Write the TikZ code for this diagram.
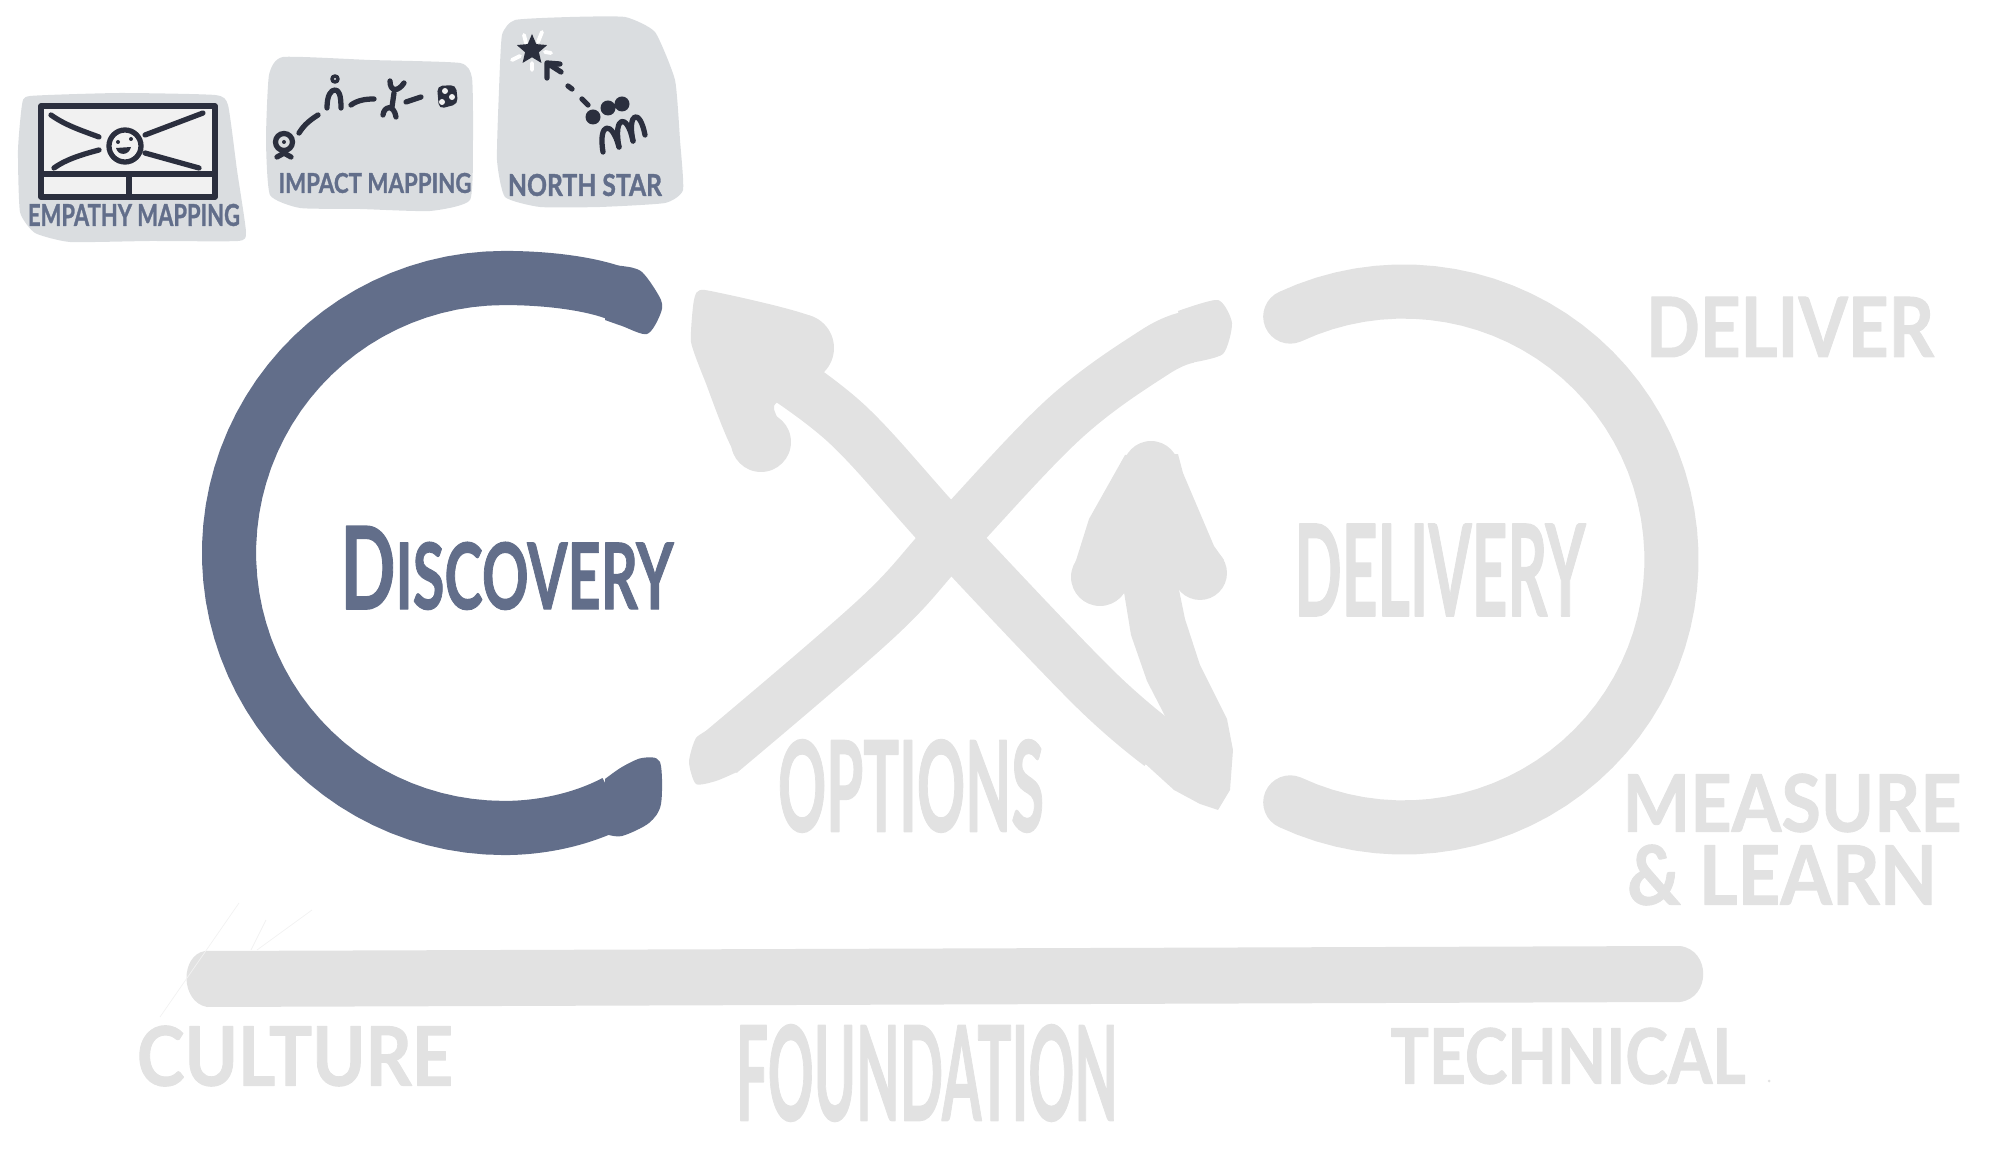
\documentclass[tikz,border=0pt]{standalone}
\usepackage{graphicx}
\usepackage{fontspec}
\setmainfont{Lato}[BoldFeatures={FakeBold=1.2}]
\usetikzlibrary{shapes.geometric}
\definecolor{slateblue}{HTML}{626E8A}
\definecolor{fadedgray}{HTML}{E2E2E2}
\definecolor{cardgray}{HTML}{DADDE0}
\definecolor{inkdark}{HTML}{2B2F3E}
\definecolor{screengray}{HTML}{F1F1F1}
\newlength\pxlen
\setlength\pxlen{0.01cm}
\newcommand{\fitbox}[3]{\resizebox{#1\pxlen}{#2\pxlen}{\bfseries #3}}

\begin{document}
\begin{tikzpicture}[x=0.01cm, y=-0.01cm, line join=round,
	bigstroke/.style={line width=15.4pt},
	crossstroke/.style={fadedgray, line width=14.8pt},
	iconline/.style={draw=inkdark, line width=1.5pt, line cap=round},
	bluelabel/.style={text=slateblue, inner sep=0pt},
	fadedlabel/.style={text=fadedgray, inner sep=0pt},
	raystroke/.style={draw=white, line width=1.1pt, line cap=round},
	]

	\useasboundingbox (0,0) rectangle (1999,1158);

	\draw[slateblue, bigstroke] (615,802) .. controls (585,818) and (545,828) .. (504,828) -- plot [domain=90:270, samples=50] ({504+275*cos(\x)}, {553+275*sin(\x)}) .. controls (550,278) and (590,284) .. (615,293); % discovery arc
	\fill[slateblue] plot [smooth, tension=0.5] coordinates {(605,266) (622,266) (642,272) (661,300) (660,315) (647,334) (622,326) (605,320)} -- cycle;
	\fill[slateblue] plot [smooth, tension=0.5] coordinates {(605,779) (622,767) (642,758) (660,762) (661,804) (649,823) (622,836) (605,834)} -- cycle;
	\draw[fadedgray, bigstroke, line cap=round] plot [domain=-115:115, samples=60] ({1403.5+268*cos(\x)}, {559.5+268*sin(\x)}); % delivery arc

	\draw[crossstroke] plot [smooth, tension=0.6] coordinates {(720,753) (877,618) (951,538) (1064,419) (1155,352) (1190,337)}; % options rising
	\fill[fadedgray] plot [smooth, tension=0.4] coordinates {(1178,311) (1218,300) (1232,323) (1223,354) (1190,363)} -- cycle;
	\fill[fadedgray] plot [smooth, tension=0.4] coordinates {(712,728) (696,738) (689,762) (696,784) (716,781) (737,772)} -- cycle;
	\draw[crossstroke] plot [smooth, tension=0.6] coordinates {(767,365) (848,425) (951,538) (1093,687) (1160,745)}; % options falling
	\fill[fadedgray] (1122,580) -- (1131,635) -- (1147,681) -- (1165,716) -- (1150,735) -- (1130,750) -- (1174,790) -- (1200,804) -- (1218,810) -- (1230,790) -- (1233,750) -- (1227,719) -- (1200,665) -- (1185,619) -- (1177,580) -- cycle; % hairpin

	\fill[fadedgray] plot [smooth cycle, tension=0.3] coordinates {(694,300) (705,290) (812,317) (819,369) (774,406) (790,446) (736,454) (705,381) (691,342)}; % discovery head
	\fill[fadedgray] (800,348) circle (34) (761,442) circle (30);
	\fill[fadedgray] (1125,455) -- (1089,519) -- (1073,570) -- (1100,600) -- (1122,590) -- (1177,587) -- (1200,590) -- (1224,560) -- (1214,546) -- (1183,473) -- (1178,454) -- cycle; % delivery head
	\fill[fadedgray] (1151,469) circle (28) (1100,577) circle (29) (1200,573) circle (27);

	\fill[fadedgray] (205,951) -- (1680,946) .. controls (1711,950) and (1711,998) .. (1680,1002) -- (207,1007) .. controls (180,1002) and (180,955) .. (205,951) -- cycle; % foundation bar
	\draw[fadedgray!45, very thin] (160,1017) -- (239,903) (251,950) -- (266,920) (257,950) -- (312,910); % pencil traces

	\node[bluelabel] (discovery) at (507,568) {\fitbox{333}{83}{D{\footnotesize ISCOVERY}}};
	\node[fadedlabel] (delivery) at (1440,570) {\fitbox{291}{92}{DELIVERY}};
	\node[fadedlabel] (deliver) at (1790,327) {\fitbox{288}{60}{DELIVER}};
	\node[fadedlabel] (measure) at (1792,803) {\fitbox{339}{58}{MEASURE}};
	\node[fadedlabel] (learn) at (1782,875) {\fitbox{310}{60}{\& LEARN}};
	\node[fadedlabel] (options) at (911,786) {\fitbox{266}{92}{OPTIONS}};
	\node[fadedlabel] (culture) at (295,1056) {\fitbox{316}{60}{CULTURE}};
	\node[fadedlabel] (foundation) at (927,1073) {\fitbox{382}{96}{FOUNDATION}};
	\node[fadedlabel] (technical) at (1568,1056) {\fitbox{355}{56}{TECHNICAL}};
	\fill[fadedgray] (1769,1081) circle (1.5); % speck after technical

	% empathy card
	\fill[cardgray] plot [smooth cycle, tension=0.3] coordinates {(30,96) (120,93) (215,95) (228,105) (237,170) (246,232) (238,241) (150,241) (70,242) (35,233) (20,212) (18,150) (22,105)};
	\draw[iconline, fill=screengray] (41,106) rectangle (215,197);
	\draw[iconline] (41,174) -- (215,174) (129,174) -- (129,197);
	\draw[iconline] (51,115) .. controls (65,125) and (80,130) .. (99,137);
	\draw[iconline] (145,135) -- (203,113);
	\draw[iconline] (99,150) .. controls (80,155) and (65,160) .. (54,168);
	\draw[iconline] (145,153) -- (199,168);
	\node[draw=inkdark, line width=1.5pt, circle, minimum size=0.32cm, inner sep=0pt] (face) at (125,146) {};
	\fill[inkdark] (118,142) circle (2) (131,139) circle (2);
	\fill[inkdark] (116,148) .. controls (118,156) and (129,156) .. (131,147) -- cycle;
	\node[bluelabel] (empathy) at (134,215) {\fitbox{212}{22}{EMPATHY MAPPING}};

	% impact card
	\fill[cardgray] plot [smooth cycle, tension=0.3] coordinates {(283,57) (370,60) (460,63) (472,78) (473,140) (470,200) (430,211) (360,209) (300,208) (270,195) (266,140) (269,75)};
	\node[draw=inkdark, line width=1.5pt, circle, minimum size=0.17cm, inner sep=0pt] (target) at (284,142) {};
	\fill[inkdark] (target) circle (2);
	\draw[iconline] (target.south) -- (277,157) (target.south) -- (291,157);
	\draw[iconline] (299,133) .. controls (304,125) and (310,120) .. (318,115);
	\node[draw=inkdark, line width=1pt, circle, minimum size=0.06cm, inner sep=0pt] (head) at (335,79) {};
	\draw[iconline] (327,108) .. controls (327,95) and (331,90) .. (335,90) .. controls (339,90) and (341,95) .. (341,108);
	\draw[iconline] (351,105) .. controls (358,100) and (366,99) .. (374,99);
	\draw[iconline] (390,81) .. controls (390,92) and (398,92) .. (404,83) (394,93) -- (392,107) (383,115) .. controls (384,106) and (394,104) .. (396,117);
	\draw[iconline] (406,102) -- (421,97);
	\fill[inkdark, rounded corners=1.5pt] (437,86) -- (456,85) -- (458,104) -- (439,109) -- cycle;
	\fill[screengray] (445,91) circle (3) (442,102) circle (3) (452,97) circle (3);
	\node[bluelabel] (impact) at (375,183) {\fitbox{193}{20}{IMPACT MAPPING}};

	% north star card
	\fill[cardgray] plot [smooth cycle, tension=0.3] coordinates {(515,20) (570,17) (625,17) (655,32) (675,80) (680,140) (683,190) (665,203) (600,207) (540,207) (505,197) (497,160) (499,90) (502,35)};
	\draw[raystroke] (524,35) -- (526,43) (542,32) -- (538,42) (551,53) -- (545,52) (512,60) -- (520,56) (532,63) -- (532,70);
	\node[star, star points=5, star point ratio=2.2, fill=inkdark, minimum size=0.32cm, inner sep=0pt] (northstar) at (532,50) {};
	\draw[iconline] (561,72) -- (547,63) (560,64) -- (547,63) -- (547,78);
	\draw[iconline] (568,86) -- (572,89) (582,99) -- (588,105);
	\fill[inkdark] (593,117) circle (7.5) (608,108) circle (7.5) (622,104) circle (7.5);
	\draw[iconline] (603,152) .. controls (598,122) and (612,120) .. (619,147);
	\draw[iconline] (619,147) .. controls (613,116) and (627,112) .. (633,141);
	\draw[iconline] (633,141) .. controls (627,112) and (640,108) .. (645,135);
	\node[bluelabel] (north) at (585,185) {\fitbox{154}{22}{NORTH STAR}};

\end{tikzpicture}
\end{document}
